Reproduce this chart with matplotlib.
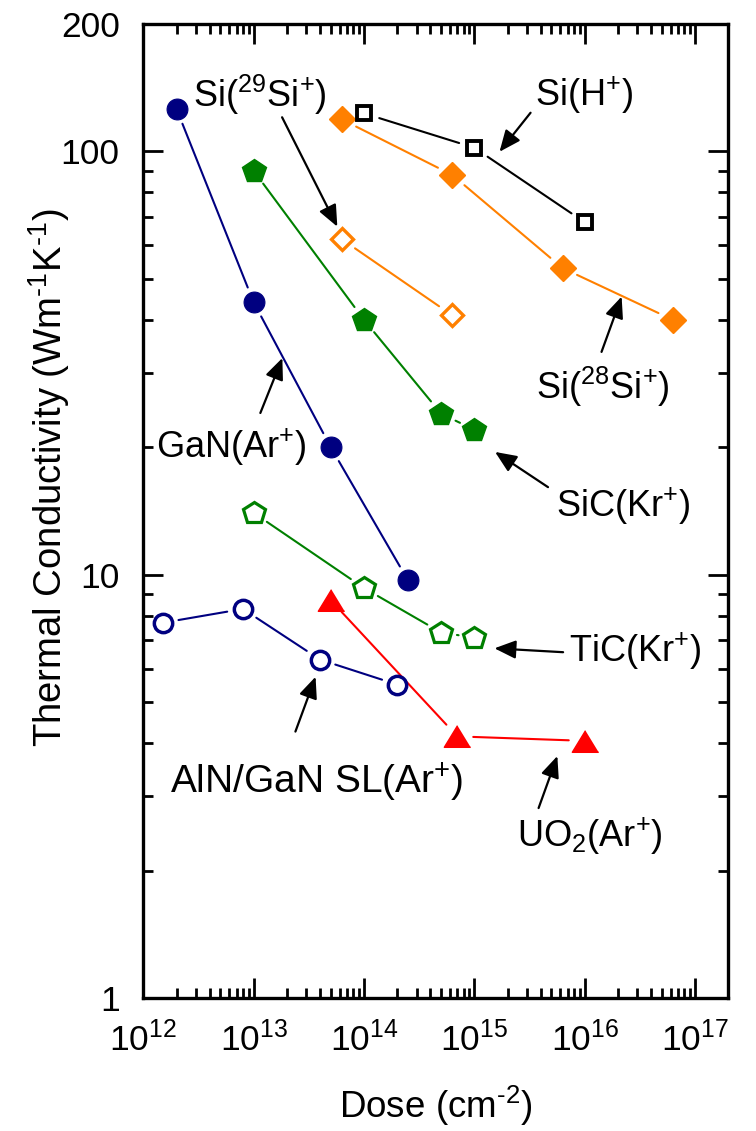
import matplotlib
matplotlib.use("Agg")
import matplotlib.pyplot as plt
from matplotlib.ticker import FixedLocator, FixedFormatter, LogLocator, NullFormatter

plt.rcParams.update({
    "font.family": ["Liberation Sans", "DejaVu Sans"],
    "mathtext.fontset": "custom",
    "mathtext.rm": "Liberation Sans",
    "mathtext.it": "Liberation Sans:italic",
    "mathtext.bf": "Liberation Sans:bold",
    "mathtext.default": "regular",
})

# ---- data: ion dose (cm^-2) vs thermal conductivity (W m^-1 K^-1) ----
gan_dose = [2e12, 1e13, 5e13, 2.5e14]
gan_k = [126, 44, 20, 9.7]

aln_dose = [1.5e12, 8e12, 4e13, 2e14]
aln_k = [7.7, 8.3, 6.3, 5.5]

sic_dose = [1e13, 1e14, 5e14, 1e15]
sic_k = [90, 40, 24, 22]

tic_dose = [1e13, 1e14, 5e14, 1e15]
tic_k = [14, 9.3, 7.3, 7.1]

uo2_dose = [5e13, 7e14, 1e16]
uo2_k = [8.7, 4.15, 4.05]

si28_dose = [6.3e13, 6.3e14, 6.3e15, 6.3e16]
si28_k = [119, 88, 53, 40]

si29_dose = [6.3e13, 6.3e14]
si29_k = [62, 41]

sih_dose = [1e14, 1e15, 1e16]
sih_k = [123, 102, 68]

x_ticks = [1e12, 1e13, 1e14, 1e15, 1e16, 1e17]
x_ticklabels = [r"$10^{12}$", r"$10^{13}$", r"$10^{14}$",
                r"$10^{15}$", r"$10^{16}$", r"$10^{17}$"]
y_ticks = [1, 10, 100, 200]
y_ticklabels = ["1", "10", "100", "200"]

NAVY = "#000080"
GREEN = "#008000"
ORANGE = "#FF8000"
RED = "#FF0000"
BLACK = "#000000"

fig = plt.figure(figsize=(7.56, 11.31), dpi=100)
ax = fig.add_axes([0.18955, 0.1176, 0.7738, 0.8612])
ax.set_xscale("log")
ax.set_yscale("log")
ax.set_xlim(1e12, 2e17)
ax.set_ylim(1, 200)

GAP = 11.5  # points left blank between a symbol and its connecting line
TRIANGLE = [(0, 0.82), (-1, -0.82), (1, -0.82)]


def series(x, y, color, marker, filled, ms, mew):
    for i in range(len(x) - 1):
        ax.annotate("", xy=(x[i + 1], y[i + 1]), xytext=(x[i], y[i]),
                    arrowprops=dict(arrowstyle="-", color=color, lw=1.5,
                                    shrinkA=GAP, shrinkB=GAP),
                    zorder=2)
    ax.plot(x, y, linestyle="none", marker=marker, ms=ms,
            mfc=color if filled else "white", mec=color, mew=mew, zorder=4)


series(gan_dose, gan_k, NAVY, "o", True, 15, 0.8)
series(aln_dose, aln_k, NAVY, "o", False, 13.2, 2.5)
series(sic_dose, sic_k, GREEN, "p", True, 17.5, 1)
series(tic_dose, tic_k, GREEN, "p", False, 16.5, 2.3)
series(uo2_dose, uo2_k, RED, TRIANGLE, True, 19, 1)
series(si28_dose, si28_k, ORANGE, "D", True, 13.2, 1)
series(si29_dose, si29_k, ORANGE, "D", False, 11.2, 2.4)
series(sih_dose, sih_k, BLACK, "s", False, 10.6, 2.8)

# ---- labels with pointer arrows ----
notes = [
    (r"Si($^{29}$Si$^{+}$)", 26, (1.15e13, 136), (1.81e13, 120.4), (5.73e13, 66.4)),
    (r"Si(H$^{+}$)", 26, (9.9e15, 136), (3.23e15, 123.4), (1.69e15, 99.8)),
    (r"Si($^{28}$Si$^{+}$)", 26, (1.45e16, 27.8), (1.42e16, 33.6), (2.16e16, 45.4)),
    (r"GaN(Ar$^{+}$)", 26, (6.2e12, 20.0), (1.15e13, 24.1), (1.82e13, 32.5)),
    (r"SiC(Kr$^{+}$)", 26, (2.23e16, 14.5), (4.65e15, 16.1), (1.54e15, 19.5)),
    (r"TiC(Kr$^{+}$)", 26, (2.89e16, 6.58), (6.37e15, 6.56), (1.52e15, 6.70)),
    (r"AlN/GaN SL(Ar$^{+}$)", 28, (3.7e13, 3.24), (2.39e13, 4.26), (3.64e13, 5.74)),
    (r"UO$_{2}$(Ar$^{+}$)", 26, (1.11e16, 2.41), (3.82e15, 2.81), (5.65e15, 3.73)),
]
for text, size, pos, tail, tip in notes:
    ax.text(pos[0], pos[1], text, fontsize=size, ha="center", va="center", zorder=5)
    ax.annotate("", xy=tip, xytext=tail,
                arrowprops=dict(arrowstyle="-|>,head_length=0.65,head_width=0.28",
                                color="black", lw=1.6, shrinkA=0, shrinkB=0,
                                mutation_scale=20),
                zorder=5)

# ---- axes styling ----
ax.xaxis.set_major_locator(FixedLocator(x_ticks))
ax.xaxis.set_major_formatter(FixedFormatter(x_ticklabels))
ax.xaxis.set_minor_locator(LogLocator(base=10, subs=range(2, 10), numticks=50))
ax.xaxis.set_minor_formatter(NullFormatter())
ax.yaxis.set_major_locator(FixedLocator(y_ticks))
ax.yaxis.set_major_formatter(FixedFormatter(y_ticklabels))
ax.yaxis.set_minor_locator(LogLocator(base=10, subs=range(2, 10), numticks=50))
ax.yaxis.set_minor_formatter(NullFormatter())

ax.tick_params(which="both", direction="in", top=True, right=True,
               width=2.0, labelsize=25.5, pad=17)
ax.tick_params(which="major", length=14.4)
ax.tick_params(which="minor", length=7.2)
for sp in ax.spines.values():
    sp.set_linewidth(2.4)

fig.text(49 / 756, 1 - 477.5 / 1131,
         r"Thermal Conductivity (Wm$^{\text{-1}}$K$^{\text{-1}}$)",
         rotation=90, ha="center", va="center", fontsize=27.5)
fig.text(436 / 756, 1 - 1106 / 1131, r"Dose (cm$^{\text{-2}}$)",
         ha="center", va="center", fontsize=26.5)

fig.savefig("out.png", dpi=100)
